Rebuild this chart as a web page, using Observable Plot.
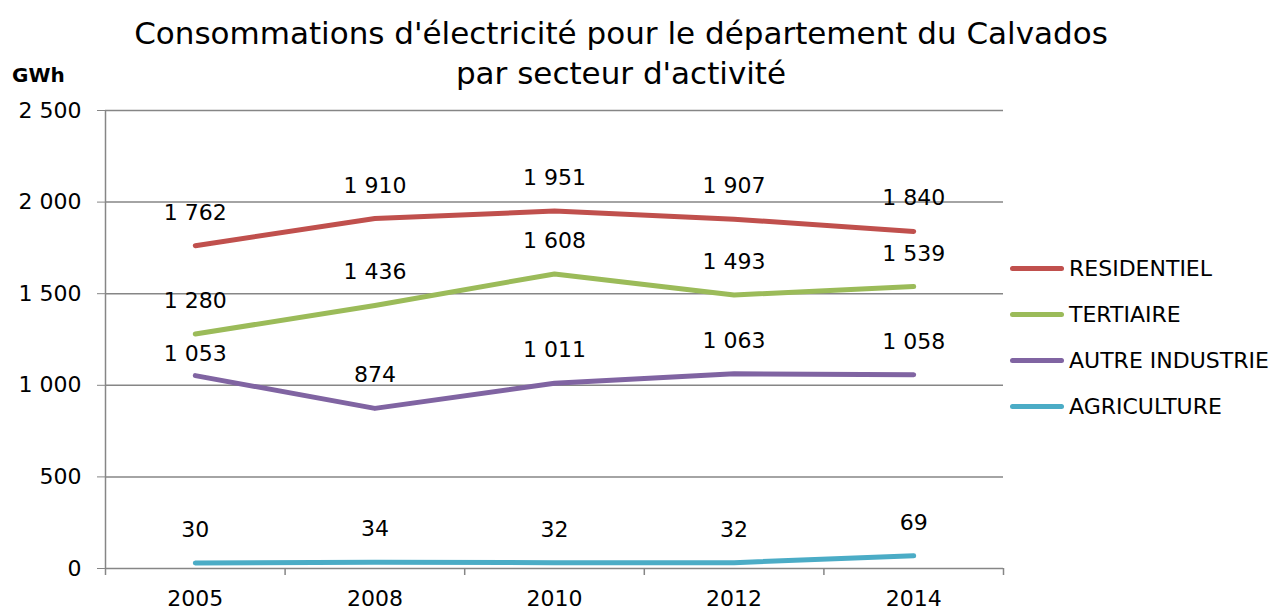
<!DOCTYPE html>
<html><head><meta charset="utf-8">
<script src="https://cdn.jsdelivr.net/npm/d3@7"></script>
<script src="https://cdn.jsdelivr.net/npm/@observablehq/plot@0.6"></script>
<style>
body{margin:0;background:#fff;font-family:"DejaVu Sans",sans-serif;}
#wrap{position:relative;width:1288px;height:613px;}
#title{position:absolute;left:0;top:13px;width:1242px;text-align:center;font-size:31px;line-height:40px;color:#000;}
#unit{position:absolute;left:12px;top:63px;font-size:20px;font-weight:bold;}
#legend{position:absolute;left:1010px;top:245px;font-size:22px;}
.li{display:flex;align-items:center;height:46px;}
.sw{width:54px;height:5px;border-radius:3px;margin-right:5px;}
svg{position:absolute;left:0;top:0;}
</style></head><body>
<div id="wrap">
<div id="title">Consommations d'électricité pour le département du Calvados<br>par secteur d'activité</div>
<div id="unit">GWh</div>
<div id="legend"></div>
</div>
<script>
const years = ["2005","2008","2010","2012","2014"];
const seriesNames = ["RESIDENTIEL","TERTIAIRE","AUTRE INDUSTRIE","AGRICULTURE"];
const residentiel = [1762,1910,1951,1907,1840];
const tertiaire = [1280,1436,1608,1493,1539];
const autreIndustrie = [1053,874,1011,1063,1058];
const agriculture = [30,34,32,32,69];
const colors = ["#C0504D","#9BBB59","#8064A2","#4BACC6"];
const yTicks = [0,500,1000,1500,2000,2500];

const allVals = [residentiel, tertiaire, autreIndustrie, agriculture];
const data = [];
allVals.forEach((vals,s)=>vals.forEach((v,i)=>data.push({series:seriesNames[s], i, x:i+0.5, value:v})));
const fmt = v => d3.format(",")(v).replace(/,/g," ");

const plot = Plot.plot({
  width:1288, height:613,
  marginLeft:105, marginRight:285, marginTop:110, marginBottom:45,
  style:{fontFamily:"'DejaVu Sans',sans-serif", fontSize:"22px", color:"#000", background:"transparent"},
  x:{type:"linear", domain:[0,years.length], axis:null},
  y:{domain:[0,2500], axis:null},
  color:{domain:seriesNames, range:colors},
  marks:[
    Plot.gridY(yTicks.filter(d=>d>0), {stroke:"#868686", strokeOpacity:1, strokeWidth:1.5}),
    Plot.axisY({ticks:yTicks, tickFormat:fmt, tickSize:8, stroke:"#868686", tickPadding:16, fontSize:22, label:null}),
    Plot.ruleX([0], {y1:0, y2:2500, stroke:"#868686", strokeWidth:1.5}),
    Plot.ruleY([0], {stroke:"#868686", strokeWidth:1.5}),
    Plot.axisX({ticks:d3.range(years.length+1), tickFormat:()=> "", tickSize:7, stroke:"#868686", strokeWidth:1.5, label:null}),
    Plot.axisX({ticks:years.map((d,i)=>i+0.5), tickFormat:d=>years[Math.round(d-0.5)], tickSize:0, tickPadding:22, fontSize:22, label:null}),
    Plot.line(data, {x:"x", y:"value", z:"series", stroke:"series", strokeWidth:5, strokeLinecap:"round", strokeLinejoin:"round"}),
    Plot.text(data.filter(d=>!(d.series==="AUTRE INDUSTRIE" && d.i===0)), {x:"x", y:"value", text:d=>fmt(d.value), dy:-33, fill:"#000", fontSize:22}),
    Plot.text(data.filter(d=>d.series==="AUTRE INDUSTRIE" && d.i===0), {x:"x", y:"value", text:d=>fmt(d.value), dy:-22, fill:"#000", fontSize:22})
  ]
});
document.getElementById("wrap").appendChild(plot);
const lg = document.getElementById("legend");
seriesNames.forEach((n,k)=>{
  const row=document.createElement("div"); row.className="li";
  row.innerHTML=`<div class="sw" style="background:${colors[k]}"></div><span>${n}</span>`;
  lg.appendChild(row);
});
</script>
</body></html>
